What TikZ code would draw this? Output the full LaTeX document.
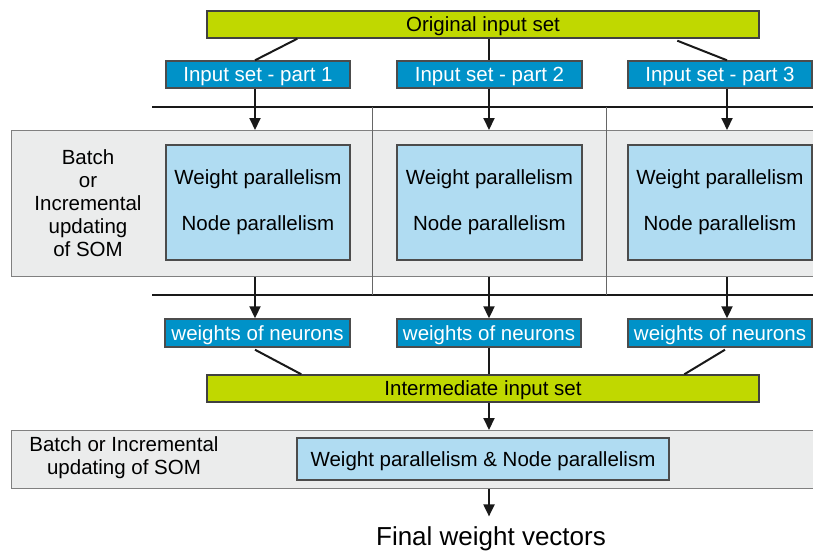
\documentclass[tikz,border=0pt]{standalone}
\usepackage{fontspec}
\setmainfont{Liberation Sans}
\usetikzlibrary{arrows.meta,calc}
\definecolor{lime}{RGB}{192,216,0}
\definecolor{dblue}{RGB}{0,146,200}
\definecolor{lblue}{RGB}{176,220,242}
\definecolor{band}{RGB}{235,236,236}
\tikzset{
  txt/.style={font=\fontsize{20.5}{23}\selectfont, inner sep=0pt},
  one/.style={txt, text height=14.7pt, text depth=0pt},
  greenbox/.style={one, draw=black!75, line width=1.4pt, fill=lime, minimum height=27pt},
  bluebox/.style={one, draw=black!70, line width=1.4pt, fill=dblue, text=white, minimum height=27pt},
  lightbox/.style={txt, draw=black!70, line width=1.4pt, fill=lblue},
  bandbox/.style={draw=black!50, line width=1.4pt, fill=band, inner sep=0pt},
  conn/.style={line width=2pt, black!90},
  arr/.style={conn, -{Triangle[length=12pt,width=11pt]}},
  sep/.style={line width=1.4pt, black!90},
  divider/.style={line width=0.9pt, black!60},
}
\begin{document}
\begin{tikzpicture}[x=1pt,y=-1pt]
\useasboundingbox (0,0) rectangle (813,552);
% column x positions
\coordinate (c1) at (255,0);
\coordinate (c2) at (489,0);
\coordinate (c3) at (727,0);
% bands
\node[bandbox, minimum width=804pt, minimum height=146pt, anchor=north west] (band1) at (11,130) {};
\node[bandbox, minimum width=804pt, minimum height=58pt, anchor=north west] (band2) at (11,430) {};
% separator lines
\coordinate (s1l) at (152,107); \coordinate (s1r) at (813,107);
\coordinate (s2l) at (152,295); \coordinate (s2r) at (813,295);
\draw[sep] (s1l) -- (s1r);
\draw[sep] (s2l) -- (s2r);
\coordinate (d1t) at (372,107); \coordinate (d1b) at (372,295);
\coordinate (d2t) at (606,107); \coordinate (d2b) at (606,295);
\draw[divider] (d1t) -- (d1b);
\draw[divider] (d2t) -- (d2b);
% top box
\node[greenbox, minimum width=552pt] (orig) at (483,24.5) {Original input set};
% parts
\node[bluebox, minimum width=184pt] (p1) at (258,74.5) {Input set - part 1};
\node[bluebox, minimum width=185pt] (p2) at (489.5,74.5) {Input set - part 2};
\node[bluebox, minimum width=184pt] (p3) at (720,74.5) {Input set - part 3};
% inner boxes
\node[lightbox, minimum width=184pt, minimum height=115pt, align=center] (w1) at (258,202.5) {Weight parallelism\\[23pt]Node parallelism};
\node[lightbox, minimum width=185pt, minimum height=115pt, align=center] (w2) at (489.5,202.5) {Weight parallelism\\[23pt]Node parallelism};
\node[lightbox, minimum width=184pt, minimum height=115pt, align=center] (w3) at (720,202.5) {Weight parallelism\\[23pt]Node parallelism};
\node[txt, align=center] (lab1) at (88,203) {Batch\\or\\Incremental\\updating\\of SOM};
% weights boxes
\node[bluebox, minimum width=185pt, minimum height=28pt] (n1) at (257.5,333) {weights of neurons};
\node[bluebox, minimum width=184pt, minimum height=28pt] (n2) at (489,333) {weights of neurons};
\node[bluebox, minimum width=184pt, minimum height=28pt] (n3) at (720,333) {weights of neurons};
% intermediate
\node[greenbox, minimum width=552pt] (inter) at (483,388.5) {Intermediate input set};
% bottom
\node[lightbox, one, minimum width=372pt, minimum height=42pt] (wn) at (483,459) {Weight parallelism \& Node parallelism};
\node[txt, align=center] (lab2) at (124,457.5) {Batch or Incremental\\updating of SOM};
\node[font=\fontsize{26}{30}\selectfont, inner sep=0pt, anchor=base] (final) at (491,545.5) {Final weight vectors};
% connectors top
\draw[conn] ($(orig.south west)+(91,0)$) -- (p1.north -| c1);
\draw[conn] (orig.south -| c2) -- (p2.north -| c2);
\draw[conn] ($(orig.south west)+(471,2)$) -- (p3.north -| c3);
\draw[arr] (p1.south -| c1) -- (band1.north -| c1);
\draw[arr] (p2.south -| c2) -- (band1.north -| c2);
\draw[arr] (p3.south -| c3) -- (band1.north -| c3);
\draw[arr] (band1.south -| c1) -- (n1.north -| c1);
\draw[arr] (band1.south -| c2) -- (n2.north -| c2);
\draw[arr] (band1.south -| c3) -- (n3.north -| c3);
% to intermediate
\draw[conn] ($(n1.south -| c1)+(0,2)$) -- ($(inter.north west)+(95,0)$);
\draw[conn] (n2.south -| c2) -- (inter.north -| c2);
\draw[conn] ($(n3.south -| c3)+(-2,2)$) -- ($(inter.north west)+(478,0)$);
\draw[arr] (inter.south -| c2) -- (band2.north -| c2);
\draw[arr] (band2.south -| c2) -- ($(band2.south -| c2)+(0,27)$) coordinate (fa);
\end{tikzpicture}
\end{document}
